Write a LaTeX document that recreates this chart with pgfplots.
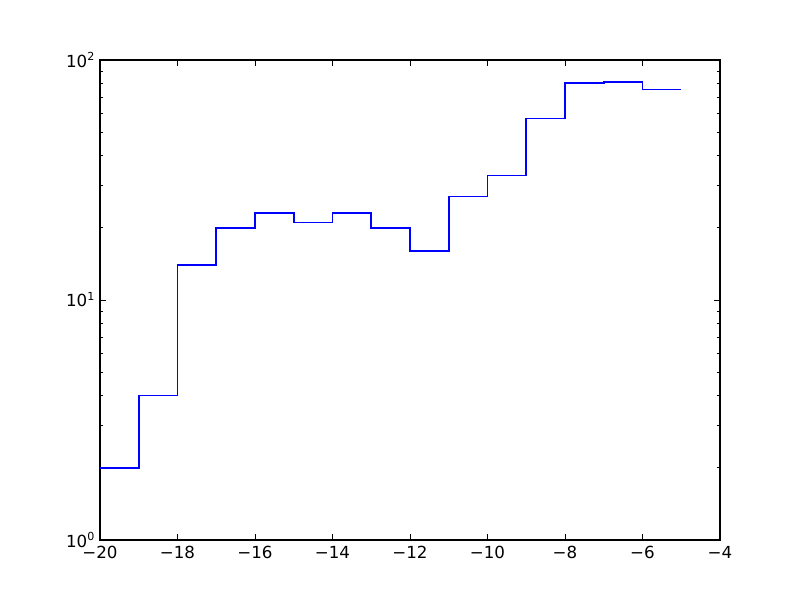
\documentclass[border=0pt]{standalone}
\usepackage{fontspec}
\setmainfont{DejaVu Sans}
\usepackage{pgfplots}
\pgfplotsset{compat=1.18}

\begin{document}
\begin{tikzpicture}
\begin{axis}[
  name=ax,
  scale only axis,
  width=446.4pt, height=345.6pt,
  ymode=log,
  xmin=-20, xmax=-4,
  ymin=1, ymax=100,
  xtick={-20,-18,-16,-14,-12,-10,-8,-6,-4},
  xticklabels={−20,−18,−16,−14,−12,−10,−8,−6,−4},
  ytick={1,10,100},
  yticklabels={10\textsuperscript{0},10\textsuperscript{1},10\textsuperscript{2}},
  tick align=inside,
  major tick length=4pt,
  minor tick length=2pt,
  every tick/.style={black, line width=0.6pt},
  axis line style={line width=0.8pt},
  ticklabel style={font=\fontsize{12}{14}\selectfont},
  xticklabel style={yshift=-1pt},
  /pgf/number format/assume math mode=true,
]
\addplot[const plot mark left, blue, line width=1.1pt] coordinates {
  (-20,2) (-19,4) (-18,14) (-17,20) (-16,23) (-15,21) (-14,23) (-13,20)
  (-12,16) (-11,27) (-10,33) (-9,57) (-8,80) (-7,81) (-6,75.5) (-5,75.5)
};
\end{axis}
\pgfresetboundingbox
\useasboundingbox ([xshift=-72pt,yshift=-43.2pt]ax.south west) rectangle ([xshift=57.6pt,yshift=43.2pt]ax.north east);
\end{tikzpicture}
\end{document}
